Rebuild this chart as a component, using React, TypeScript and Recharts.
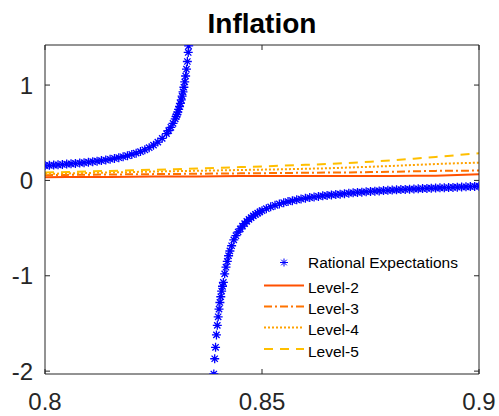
import {
  ComposedChart,
  Line,
  Scatter,
  XAxis,
  YAxis,
  Legend,
} from "recharts";

// grid for the level-k lines
const XS = [
  0.8, 0.805, 0.81, 0.815, 0.82, 0.825, 0.83, 0.835, 0.84, 0.845, 0.85,
  0.855, 0.86, 0.865, 0.87, 0.875, 0.88, 0.885, 0.89, 0.895, 0.9,
];

const LEVEL2 = [
  0.033, 0.035, 0.036, 0.037, 0.038, 0.04, 0.041, 0.042, 0.043, 0.045, 0.046,
  0.046, 0.047, 0.047, 0.047, 0.047, 0.047, 0.048, 0.05, 0.056, 0.065,
];
const LEVEL3 = [
  0.055, 0.058, 0.06, 0.062, 0.064, 0.066, 0.068, 0.07, 0.072, 0.074, 0.076,
  0.078, 0.08, 0.082, 0.084, 0.087, 0.091, 0.096, 0.1, 0.102, 0.103,
];
const LEVEL4 = [
  0.068, 0.073, 0.078, 0.083, 0.088, 0.093, 0.097, 0.101, 0.105, 0.109, 0.113,
  0.117, 0.122, 0.127, 0.135, 0.143, 0.152, 0.162, 0.172, 0.18, 0.186,
];
const LEVEL5 = [
  0.082, 0.088, 0.094, 0.1, 0.106, 0.112, 0.118, 0.124, 0.132, 0.14, 0.147,
  0.155, 0.163, 0.172, 0.183, 0.196, 0.21, 0.228, 0.246, 0.265, 0.285,
];

// rational expectations, both branches of the curve
const RE_X = [
  0.8, 0.801, 0.802, 0.803, 0.804, 0.805, 0.806, 0.807, 0.808, 0.809, 0.81,
  0.811, 0.812, 0.813, 0.814, 0.815, 0.816, 0.817, 0.818, 0.819, 0.82, 0.821,
  0.822, 0.823, 0.824, 0.825, 0.826, 0.827, 0.828, 0.8285, 0.829, 0.8295,
  0.83, 0.8302, 0.8304, 0.8306, 0.8308, 0.831, 0.8312, 0.8314, 0.8316, 0.8318,
  0.832, 0.8322, 0.8324, 0.8326, 0.8328, 0.833, 0.8331,
  0.8389, 0.8391, 0.8393, 0.8395, 0.8397, 0.8399, 0.8401, 0.8403, 0.8405,
  0.8407, 0.8409, 0.8411, 0.8414, 0.8417, 0.842, 0.8423, 0.8426, 0.843,
  0.8435, 0.844, 0.8445, 0.845, 0.8455, 0.846, 0.8465, 0.847, 0.8475, 0.848,
  0.8485, 0.849, 0.8495, 0.85, 0.851, 0.852, 0.853, 0.854, 0.855, 0.856,
  0.857, 0.858, 0.859, 0.86, 0.861, 0.862, 0.863, 0.864, 0.865, 0.866, 0.867,
  0.868, 0.869, 0.87, 0.871, 0.872, 0.873, 0.874, 0.875, 0.876, 0.877, 0.878,
  0.879, 0.88, 0.881, 0.882, 0.883, 0.884, 0.885, 0.886, 0.887, 0.888, 0.889,
  0.89, 0.891, 0.892, 0.893, 0.894, 0.895, 0.896, 0.897, 0.898, 0.899, 0.9,
];
const RE_Y = [
  0.156, 0.158, 0.161, 0.164, 0.167, 0.171, 0.174, 0.178, 0.182, 0.186, 0.191,
  0.196, 0.202, 0.208, 0.214, 0.222, 0.23, 0.238, 0.248, 0.259, 0.272, 0.286,
  0.302, 0.321, 0.343, 0.37, 0.402, 0.441, 0.491, 0.522, 0.557, 0.598,
  0.646, 0.668, 0.691, 0.717, 0.745, 0.775, 0.808, 0.844, 0.884, 0.928,
  0.977, 1.033, 1.095, 1.166, 1.247, 1.342, 1.41,
  -2.03, -1.87, -1.75, -1.62, -1.52, -1.43, -1.35, -1.28, -1.22,
  -1.16, -1.11, -1.07, -0.98, -0.91, -0.85, -0.79, -0.74, -0.685,
  -0.624, -0.58, -0.541, -0.508, -0.479, -0.453, -0.429, -0.408, -0.39, -0.372,
  -0.357, -0.343, -0.33, -0.317, -0.296, -0.277, -0.261, -0.247, -0.234, -0.222,
  -0.212, -0.203, -0.195, -0.187, -0.18, -0.174, -0.168, -0.162, -0.157, -0.152, -0.148,
  -0.144, -0.14, -0.134, -0.13, -0.126, -0.123, -0.119, -0.116, -0.113, -0.11, -0.107,
  -0.104, -0.101, -0.099, -0.096, -0.094, -0.092, -0.09, -0.088, -0.086, -0.084, -0.082,
  -0.08, -0.078, -0.077, -0.075, -0.073, -0.071, -0.069, -0.067, -0.065, -0.063, -0.061,
];

const X_TICKS = [0.8, 0.85, 0.9];
const Y_TICKS = [-2, -1, 0, 1];

const FONT = "'Liberation Sans', Arial, Helvetica, sans-serif";
const AXIS = "#262626";

const SERIES = [
  { name: "Level-2", values: LEVEL2, color: "#ff5000", dash: undefined },
  { name: "Level-3", values: LEVEL3, color: "#ff7300", dash: "8 3 2 3" },
  { name: "Level-4", values: LEVEL4, color: "#ffa200", dash: "2 2" },
  { name: "Level-5", values: LEVEL5, color: "#ffbf00", dash: "9 7" },
];

const rePoints = RE_X.map((x, i) => ({ x, y: RE_Y[i] }));

function asteriskPath(cx: number, cy: number, r = 4.5) {
  const d = r * 0.7;
  return `M${cx - r},${cy}H${cx + r}M${cx},${cy - r}V${cy + r}M${cx - d},${cy - d}L${cx + d},${cy + d}M${cx - d},${cy + d}L${cx + d},${cy - d}`;
}

const Asterisk = (props: any) => {
  const { cx, cy } = props;
  if (cx == null || cy == null) return null;
  return <path d={asteriskPath(cx, cy)} stroke="#0000ff" strokeWidth={1.3} fill="none" />;
};

const LegendBox = () => {
  const rows = [43, 64, 85, 106.5];
  return (
    <svg width={230} height={115} style={{ display: "block" }}>
      <path d={asteriskPath(29, 12.5, 4)} stroke="#0000ff" strokeWidth={1} fill="none" />
      <text x={53} y={18} fontSize={15.5} fontFamily={FONT} fill="#000">
        Rational Expectations
      </text>
      {SERIES.map((s, i) => (
        <g key={s.name}>
          <line
            x1={9}
            x2={49}
            y1={rows[i] - 7.5}
            y2={rows[i] - 7.5}
            stroke={s.color}
            strokeWidth={2}
            strokeDasharray={s.dash}
          />
          <text x={53} y={rows[i]} fontSize={15.5} fontFamily={FONT} fill="#000">
            {s.name}
          </text>
        </g>
      ))}
    </svg>
  );
};

const tickStyle = { fill: AXIS, fontSize: 24, fontFamily: FONT };

export default function App() {
  return (
    <div style={{ position: "absolute", left: 0, top: 0, width: 499, height: 416, background: "#fff" }}>
      <ComposedChart width={499} height={416} margin={{ top: 35, right: 10, bottom: 2, left: 5 }}>
        <XAxis
          xAxisId="b"
          dataKey="x"
          type="number"
          domain={[0.8, 0.9]}
          ticks={X_TICKS}
          allowDataOverflow
          height={40}
          tickSize={-5}
          tickMargin={24}
          tick={tickStyle}
          stroke={AXIS}
          interval={0}
        />
        <XAxis
          xAxisId="t"
          orientation="top"
          dataKey="x"
          type="number"
          domain={[0.8, 0.9]}
          ticks={X_TICKS}
          allowDataOverflow
          height={10}
          tickSize={-5}
          tickFormatter={() => ""}
          stroke={AXIS}
          interval={0}
        />
        <YAxis
          yAxisId="l"
          dataKey="y"
          type="number"
          domain={[-2.03, 1.42]}
          ticks={Y_TICKS}
          allowDataOverflow
          width={40}
          tickSize={-5}
          tickMargin={17}
          tick={tickStyle}
          stroke={AXIS}
          interval={0}
        />
        <YAxis
          yAxisId="r"
          orientation="right"
          dataKey="y"
          type="number"
          domain={[-2.03, 1.42]}
          ticks={Y_TICKS}
          allowDataOverflow
          width={10}
          tickSize={-5}
          tickFormatter={() => ""}
          stroke={AXIS}
          interval={0}
        />
        {SERIES.map((s) => (
          <Line
            key={s.name}
            xAxisId="b"
            yAxisId="l"
            data={XS.map((x, i) => ({ x, y: s.values[i] }))}
            dataKey="y"
            type="linear"
            stroke={s.color}
            strokeWidth={2}
            strokeDasharray={s.dash}
            dot={false}
            isAnimationActive={false}
          />
        ))}
        <Scatter
          xAxisId="b"
          yAxisId="l"
          data={rePoints}
          dataKey="y"
          shape={Asterisk}
          isAnimationActive={false}
        />
        <Legend
          layout="vertical"
          align="center"
          verticalAlign="middle"
          content={() => <LegendBox />}
          wrapperStyle={{ left: 255, top: 250, width: 230, height: 115 }}
        />
      </ComposedChart>
      <svg width={499} height={45} style={{ position: "absolute", left: 0, top: 0 }}>
        <text x={262} y={33} textAnchor="middle" fontSize={28} fontWeight="bold" fontFamily={FONT} fill="#000">
          Inflation
        </text>
      </svg>
    </div>
  );
}
